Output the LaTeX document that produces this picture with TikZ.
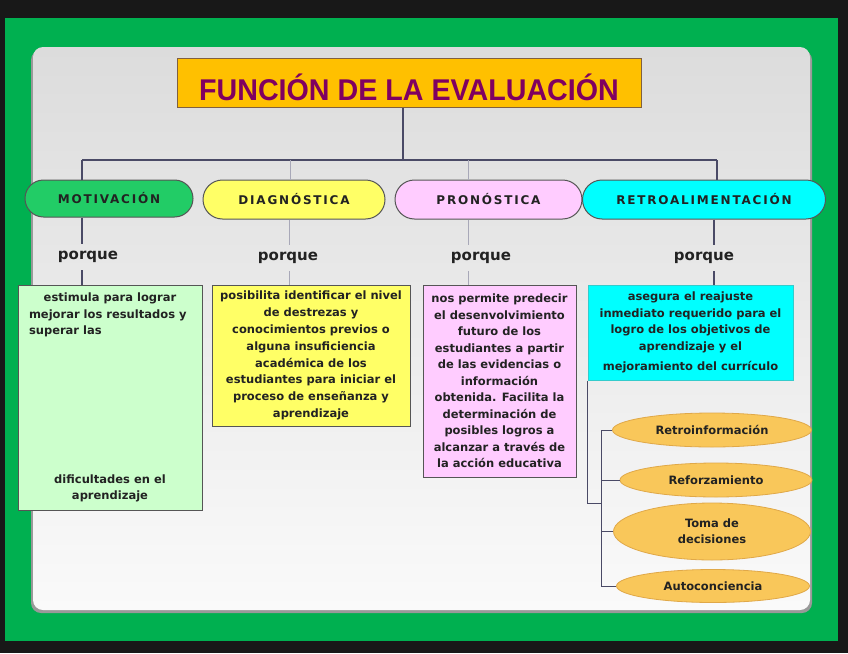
\documentclass[tikz,border=0pt]{standalone}
\usepackage{fontspec}
\setmainfont{DejaVu Sans}
\newfontfamily\capsfont[LetterSpace=15]{DejaVu Sans}
\newfontfamily\titlefont{Liberation Sans}
\usepackage{graphicx}
\usetikzlibrary{shapes.misc,shapes.geometric}
\definecolor{bgdark}{HTML}{181818}
\definecolor{framegreen}{HTML}{00B050}
\definecolor{paneltop}{HTML}{DCDCDC}
\definecolor{panelbot}{HTML}{FAFAFA}
\definecolor{titlefill}{HTML}{FFC000}
\definecolor{titleborder}{HTML}{806040}
\definecolor{titletext}{HTML}{800060}
\definecolor{linedark}{HTML}{4A4A66}
\definecolor{linelight}{HTML}{A8A8B8}
\definecolor{nodeborder}{HTML}{555555}
\definecolor{motgreen}{HTML}{22CC66}
\definecolor{motbox}{HTML}{CCFFCC}
\definecolor{diagyellow}{HTML}{FFFF66}
\definecolor{pronpink}{HTML}{FFCCFF}
\definecolor{retrocyan}{HTML}{00FFFF}
\definecolor{ovalfill}{HTML}{F9C75A}
\definecolor{ovalborder}{HTML}{E0A848}
\definecolor{textdark}{HTML}{222222}
\begin{document}
\begin{tikzpicture}[x=1pt,y=-1pt,
  conn/.style={draw=linedark, line width=1.2pt},
  connlight/.style={draw=linelight, line width=1pt},
  headnode/.style={rounded rectangle, draw=nodeborder, line width=1pt, font={\capsfont\bfseries\fontsize{12}{14}\selectfont}, text=textdark, inner sep=0pt},
  porquelbl/.style={font={\bfseries\fontsize{15}{18}\selectfont}, text=textdark, inner sep=0pt, minimum height=26pt},
  infobox/.style={rectangle, draw=nodeborder, line width=1pt, align=center, inner sep=0pt, font={\bfseries\fontsize{11.5}{16.5}\selectfont}, text=textdark},
  oval/.style={ellipse, draw=ovalborder, fill=ovalfill, line width=0.8pt, inner sep=0pt, align=center, font={\bfseries\fontsize{11.5}{16}\selectfont}, text=textdark}
]
\useasboundingbox (0,0) rectangle (848,653);
\fill[bgdark] (0,0) rectangle (848,653);
\fill[framegreen] (5,18) rectangle (838,641);
\fill[black!40, rounded corners=10pt] (31,50) rectangle (812,613);
\shade[top color=paneltop, bottom color=panelbot, rounded corners=10pt] (33,47) rectangle (810,610);

% title
\node[draw=titleborder, line width=1pt, fill=titlefill, minimum width=464pt, minimum height=49pt, inner sep=0pt, text=titletext] (title) at (409,82.5)
  {\raisebox{-3.5pt}[28pt][0pt]{\scalebox{0.955}[1]{\titlefont\bfseries\fontsize{30}{30}\selectfont FUNCIÓN DE LA EVALUACIÓN}}};

% head nodes
\node[headnode, fill=motgreen, minimum width=168pt, minimum height=37pt] (mot) at (109,198.5) {MOTIVACIÓN};
\node[headnode, fill=diagyellow, minimum width=182pt, minimum height=39pt] (diag) at (294,199.5) {DIAGNÓSTICA};
\node[headnode, fill=pronpink, minimum width=187pt, minimum height=39pt] (pron) at (488.5,199.5) {PRONÓSTICA};
\node[headnode, fill=retrocyan, minimum width=243pt, minimum height=39pt] (retro) at (704,199.5) {RETROALIMENTACIÓN};

% porque labels
\node[porquelbl] (pm) at (88,257) {porque};
\node[porquelbl] (pd) at (288,258) {porque};
\node[porquelbl] (pp) at (481,258) {porque};
\node[porquelbl] (pr) at (704,258) {porque};

% info boxes
\node[infobox, fill=motbox, minimum width=184pt, minimum height=225pt] (bm) at (110,397.5)
  {estimula para lograr\\ \makebox[162pt][l]{mejorar los resultados y}\\ \makebox[162pt][l]{superar las}\\[132pt] dificultades en el\\ aprendizaje};
\node[infobox, fill=diagyellow, minimum width=198pt, minimum height=141pt, font={\bfseries\fontsize{11.5}{16.8}\selectfont}] (bd) at (311,355.5)
  {posibilita identificar el nivel\\ de destrezas y\\ conocimientos previos o\\ alguna insuficiencia\\ académica de los\\ estudiantes para iniciar el\\ proceso de enseñanza y\\ aprendizaje};
\node[infobox, fill=pronpink, minimum width=153pt, minimum height=192pt] (bp) at (499.5,381)
  {nos permite predecir\\ el desenvolvimiento\\ futuro de los\\ estudiantes a partir\\ de las evidencias o\\ información\\ obtenida. Facilita la\\ determinación de\\ posibles logros a\\ alcanzar a través de\\ la acción educativa};
\node[infobox, fill=retrocyan, draw=retrocyan!60!gray, minimum width=205pt, minimum height=95pt] (br) at (690.5,332.5)
  {asegura el reajuste\\ inmediato requerido para el\\ logro de los objetivos de\\ aprendizaje y el\\[4pt] mejoramiento del currículo};

% ovals
\node[oval, minimum width=199pt, minimum height=34pt] (e1) at (712,430) {Retroinformación};
\node[oval, minimum width=192pt, minimum height=34pt] (e2) at (716,480) {Reforzamiento};
\node[oval, minimum width=197pt, minimum height=57pt] (e3) at (712,531.5) {Toma de\\ decisiones};
\node[oval, minimum width=193pt, minimum height=33pt] (e4) at (713,586) {Autoconciencia};

% connectors: title to heads
\coordinate (barmid) at (403,160);
\coordinate (bar1) at (82,160);
\coordinate (bar2) at (290,160);
\coordinate (bar3) at (468,160);
\coordinate (bar4) at (717,160);
\draw[conn] (title.south -| barmid) -- (barmid);
\draw[conn] (bar1) -- (bar4);
\draw[conn] (bar1) -- (bar1 |- mot.north);
\draw[connlight] (bar2) -- (bar2 |- diag.north);
\draw[connlight] (bar3) -- (bar3 |- pron.north);
\draw[conn] (bar4) -- (bar4 |- retro.north);

% heads to porque to boxes
\coordinate (x1) at (82,0);
\coordinate (x2) at (289,0);
\coordinate (x3) at (468,0);
\coordinate (x4) at (714,0);
\draw[conn] (mot.south -| x1) -- (pm.north -| x1);
\draw[conn] (pm.south -| x1) -- (bm.north -| x1);
\draw[connlight] (diag.south -| x2) -- (pd.north -| x2);
\draw[connlight] (pd.south -| x2) -- (bd.north -| x2);
\draw[connlight] (pron.south -| x3) -- (pp.north -| x3);
\draw[connlight] (pp.south -| x3) -- (bp.north -| x3);
\draw[conn] (retro.south -| x4) -- (pr.north -| x4);
\draw[conn] (pr.south -| x4) -- (br.north -| x4);

% bracket to ovals
\coordinate (jb) at (601,503);
\draw[conn, line width=1pt] (br.south west) |- (jb);
\draw[conn, line width=1pt] (e1.west -| jb) -- (e4.west -| jb);
\foreach \e in {e1,e2,e3,e4} \draw[conn, line width=1pt] (\e.west -| jb) -- (\e.west);
\end{tikzpicture}
\end{document}
